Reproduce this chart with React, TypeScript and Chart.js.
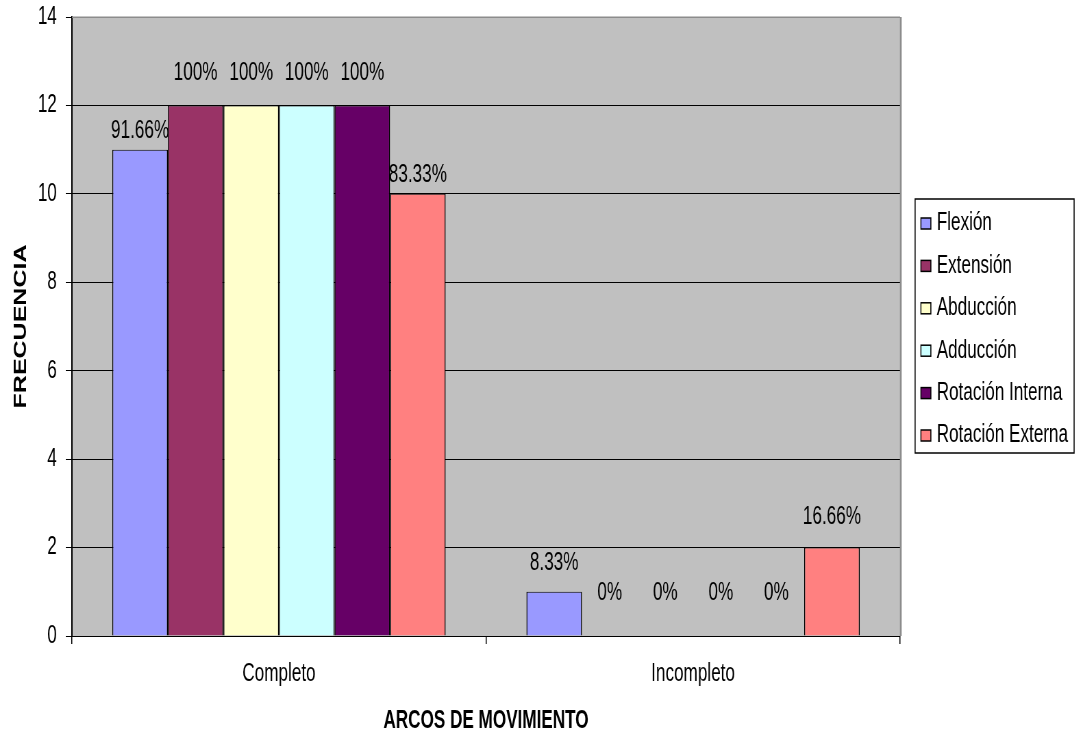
import React, { useEffect, useRef } from "react";
import { Chart, registerables } from "chart.js";

Chart.register(...registerables);

// Horizontal squeeze applied to the whole canvas (tall, narrow lettering).
const SX = 0.685;
const W = Math.round(1080 / SX);
const H = 736;

const FONT = "'Liberation Sans', Arial, Helvetica, sans-serif";

const CATEGORIES = ["Completo", "Incompleto"];

const SERIES_NAMES = [
  "Flexión",
  "Extensión",
  "Abducción",
  "Adducción",
  "Rotación Interna",
  "Rotación Externa",
];

const FLEXION = [11, 1];
const EXTENSION = [12, 0];
const ABDUCCION = [12, 0];
const ADDUCCION = [12, 0];
const ROTACION_INTERNA = [12, 0];
const ROTACION_EXTERNA = [10, 2];

const FLEXION_PCT = ["91.66%", "8.33%"];
const EXTENSION_PCT = ["100%", "0%"];
const ABDUCCION_PCT = ["100%", "0%"];
const ADDUCCION_PCT = ["100%", "0%"];
const ROTACION_INTERNA_PCT = ["100%", "0%"];
const ROTACION_EXTERNA_PCT = ["83.33%", "16.66%"];

const Y_MIN = 0;
const Y_MAX = 14;
const Y_STEP = 2;

const SERIES_VALUES = [FLEXION, EXTENSION, ABDUCCION, ADDUCCION, ROTACION_INTERNA, ROTACION_EXTERNA];
const SERIES_PCT = [FLEXION_PCT, EXTENSION_PCT, ABDUCCION_PCT, ADDUCCION_PCT, ROTACION_INTERNA_PCT, ROTACION_EXTERNA_PCT];
const SERIES_COLORS = ["#9999FF", "#993366", "#FFFFCC", "#CCFFFF", "#660066", "#FF8080"];

// How far each percentage label sits above its bar top (per series, per category).
const LABEL_LIFT = [
  [19, 29],
  [32, 43],
  [32, 43],
  [32, 43],
  [32, 43],
  [19, 30],
];

const plotFrame = {
  id: "plotFrame",
  beforeDraw(chart: any) {
    const { ctx, chartArea: a } = chart;
    ctx.save();
    ctx.fillStyle = "#C0C0C0";
    ctx.fillRect(a.left, a.top, a.right - a.left, a.bottom - a.top);
    ctx.restore();
  },
  beforeDatasetsDraw(chart: any) {
    const { ctx, chartArea: a } = chart;
    ctx.save();
    ctx.strokeStyle = "#8C8C8C";
    ctx.lineWidth = 1.5;
    ctx.beginPath();
    ctx.moveTo(a.left, a.top + 0.25);
    ctx.lineTo(a.right, a.top + 0.25);
    ctx.stroke();
    ctx.lineWidth = 2.5;
    ctx.beginPath();
    ctx.moveTo(a.right + 1, a.top);
    ctx.lineTo(a.right + 1, a.bottom);
    ctx.stroke();
    ctx.restore();
  },
};

const percentLabels = {
  id: "percentLabels",
  afterDatasetsDraw(chart: any) {
    const { ctx } = chart;
    ctx.save();
    ctx.font = `25px ${FONT}`;
    ctx.fillStyle = "#000";
    ctx.textAlign = "center";
    ctx.textBaseline = "middle";
    chart.data.datasets.forEach((_ds: any, i: number) => {
      const meta = chart.getDatasetMeta(i);
      meta.data.forEach((bar: any, j: number) => {
        ctx.fillText(SERIES_PCT[i][j], bar.x, bar.y - LABEL_LIFT[i][j]);
      });
    });
    ctx.restore();
  },
};

const boxedLegend = {
  id: "boxedLegend",
  afterDraw(chart: any) {
    const { ctx, chartArea: a } = chart;
    const left = a.right + 15 / SX;
    const width = 159 / SX;
    const height = 254;
    const top = (a.top + a.bottom) / 2 - height / 2 - 1;
    ctx.save();
    ctx.fillStyle = "#FFFFFF";
    ctx.fillRect(left, top, width, height);
    ctx.strokeStyle = "#000";
    ctx.lineWidth = 1.5;
    ctx.strokeRect(left, top + 0.5, width, height);
    ctx.font = `25px ${FONT}`;
    ctx.textAlign = "left";
    ctx.textBaseline = "middle";
    chart.data.datasets.forEach((ds: any, i: number) => {
      const cy = top + 25 + i * 42.4;
      const bx = left + 8.5;
      const bw = 14.5;
      const bh = 11;
      ctx.fillStyle = ds.backgroundColor;
      ctx.fillRect(bx, cy - bh / 2, bw, bh);
      ctx.lineWidth = 1.5;
      ctx.strokeStyle = "#000";
      ctx.strokeRect(bx, cy - bh / 2, bw, bh);
      ctx.fillStyle = "#000";
      ctx.fillText(ds.label, bx + bw + 8.5, cy);
    });
    ctx.restore();
  },
};

export default function App() {
  const ref = useRef<HTMLCanvasElement | null>(null);

  useEffect(() => {
    if (!ref.current) return;
    const chart = new Chart(ref.current, {
      type: "bar",
      data: {
        labels: CATEGORIES,
        datasets: SERIES_NAMES.map((name, i) => ({
          label: name,
          data: SERIES_VALUES[i],
          backgroundColor: SERIES_COLORS[i],
          borderColor: "#000000",
          borderWidth: { top: 1, left: 1.5, right: 1.5, bottom: 0 },
          categoryPercentage: 0.805,
          barPercentage: 1,
        })),
      },
      options: {
        responsive: false,
        devicePixelRatio: 1,
        animation: false,
        layout: { padding: { top: 17, right: W - 1314, bottom: 0, left: 0 } },
        plugins: {
          legend: { display: false },
          tooltip: { enabled: false },
        },
        scales: {
          x: {
            afterFit(scale: any) {
              scale.height = 100;
            },
            ticks: { color: "#000", font: { family: FONT, size: 25 }, padding: 15 },
            grid: {
              drawOnChartArea: false,
              drawTicks: true,
              tickLength: 8,
              lineWidth: 1.5,
              color: "#000",
              offset: true,
            },
            border: { color: "#000", width: 1 },
            title: {
              display: true,
              text: "ARCOS DE MOVIMIENTO",
              color: "#000",
              font: { family: FONT, size: 25, weight: "bold" },
              padding: { top: 0, bottom: 0 },
            },
          },
          y: {
            min: Y_MIN,
            max: Y_MAX,
            afterFit(scale: any) {
              scale.width = 105;
            },
            ticks: {
              stepSize: Y_STEP,
              color: "#000",
              font: { family: FONT, size: 25, lineHeight: 0.32 },
              padding: 13,
            },
            grid: {
              color: (c: any) => (c.tick && c.tick.value === Y_MAX ? "rgba(0,0,0,0)" : "#000"),
              tickColor: "#000",
              tickLength: 9,
              lineWidth: 1,
            },
            border: { color: "#000", width: 2 },
            title: {
              display: true,
              text: "FRECUENCIA",
              color: "#000",
              font: { family: FONT, size: 25, weight: "bold" },
              padding: { top: 16, bottom: 0 },
            },
          },
        },
      },
      plugins: [plotFrame, percentLabels, boxedLegend],
    });
    return () => chart.destroy();
  }, []);

  return (
    <div
      style={{
        position: "fixed",
        left: 0,
        top: 0,
        width: 1080,
        height: H,
        overflow: "hidden",
        background: "#FFFFFF",
      }}
    >
      <canvas
        ref={ref}
        width={W}
        height={H}
        style={{
          display: "block",
          width: W,
          height: H,
          transform: `scaleX(${SX})`,
          transformOrigin: "0 0",
        }}
      />
    </div>
  );
}
